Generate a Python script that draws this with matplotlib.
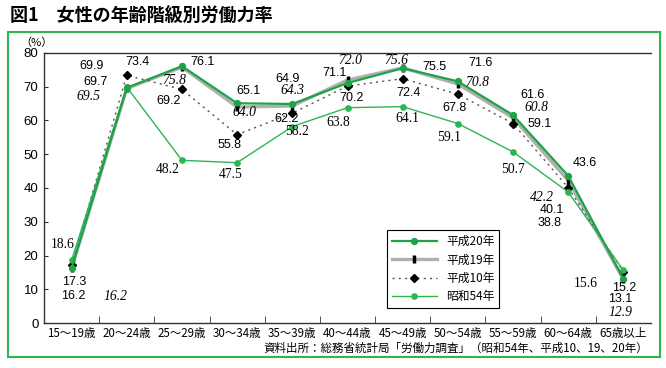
import matplotlib
matplotlib.use("Agg")
import matplotlib.pyplot as plt
from matplotlib.patches import Rectangle

# data
ages = ["15～19歳", "20～24歳", "25～29歳", "30～34歳", "35～39歳", "40～44歳",
        "45～49歳", "50～54歳", "55～59歳", "60～64歳", "65歳以上"]
h20 = [16.2, 69.7, 76.1, 65.1, 64.9, 71.1, 75.5, 71.6, 61.6, 43.6, 13.1]
h19 = [16.2, 69.5, 75.8, 64.0, 64.3, 72.0, 75.6, 70.8, 60.8, 42.2, 12.9]
h10 = [17.3, 73.4, 69.2, 55.8, 62.2, 70.2, 72.4, 67.8, 59.1, 40.1, 15.2]
s54 = [18.6, 69.9, 48.2, 47.5, 58.2, 63.8, 64.1, 59.1, 50.7, 38.8, 15.6]
yticks = [0, 10, 20, 30, 40, 50, 60, 70, 80]

# label offsets (pixels) from each point
off_h20 = [(2, -28), (-31, 6), (21, 4), (11, 12), (-5, 25), (-13, 10), (32, 1),
           (23, 18), (20, 20), (17, 13), (-3, -20)]
off_h19 = [(44, -28), (-38, -8), (-8, -13), (7, -6), (0, 15), (3, 19), (-6, 7),
           (19, 2), (23, 10), (-26, -17), (-3, -33)]
off_h10 = [(3, -17), (11, 13), (-13, -12), (-8, -10), (-6, -6), (4, -12), (6, -14),
           (-3, -14), (27, 0), (-16, -22), (1, -16)]
off_s54 = [(-9, 16), (-35, 21), (-14, -9), (-6, -12), (5, -5), (-9, -15), (5, -12),
           (-9, -14), (0, -18), (-19, -31), (-38, -13)]
s54_sans = [1, 9]

GREEN = "#1ea349"
LGREEN = "#2fb552"
JP = ["Noto Sans CJK JP", "DejaVu Sans"]

fig = plt.figure(figsize=(6.66, 3.68), dpi=100)
ax = fig.add_axes([44 / 666, 1 - 323 / 368, 607 / 666, 270 / 368])
x = list(range(len(ages)))

ax.plot(x, h19, color="#b0b0b0", lw=2.4, marker="|", ms=5.5, mew=2.5, mec="black",
        label="平成19年", zorder=2)
ax.plot(x, h10, color="#555555", lw=1, ls=(0, (1.5, 3)), marker="D", ms=3.8,
        mfc="black", mec="black", label="平成10年", zorder=3)
ax.plot(x, s54, color=LGREEN, lw=1, marker="o", ms=3.8, label="昭和54年", zorder=4)
ax.plot(x, h20, color=GREEN, lw=1.6, marker="o", ms=4.2, label="平成20年", zorder=5)

def put(vals, offs, **kw):
    for i, v in enumerate(vals):
        ax.annotate(f"{v:.1f}", (i, v), xytext=offs[i], textcoords="offset pixels",
                    ha="center", va="center", zorder=6, **kw)

put(h20, off_h20, family="Liberation Sans", fontsize=9)
put(h10, off_h10, family="Liberation Sans", fontsize=9)
put(h19, off_h19, family="Liberation Serif", style="italic", fontsize=9.8)
for i, v in enumerate(s54):
    if i in s54_sans:
        ax.annotate(f"{v:.1f}", (i, v), xytext=off_s54[i], textcoords="offset pixels",
                    ha="center", va="center", family="Liberation Sans", fontsize=9, zorder=6)
    else:
        ax.annotate(f"{v:.1f}", (i, v), xytext=off_s54[i], textcoords="offset pixels",
                    ha="center", va="center", family="Liberation Serif", fontsize=9.8, zorder=6)

ax.set_xlim(-0.5, len(ages) - 0.5)
ax.set_ylim(0, 80)
ax.set_yticks(yticks)
ax.set_yticklabels([str(t) for t in yticks], family="Liberation Sans", fontsize=9.5)
ax.set_xticks(x)
ax.set_xticklabels(ages, family=JP, fontsize=8.3)
ax.set_xticks([i + 0.5 for i in x[:-1]], minor=True)
ax.tick_params(axis="x", which="major", length=0, pad=3)
ax.tick_params(axis="x", which="minor", direction="in", length=5, color="#333333")
ax.tick_params(axis="y", direction="in", length=3, pad=4, color="#333333")
ax.spines["right"].set_visible(False)
for s in ["left", "bottom", "top"]:
    ax.spines[s].set_color("#333333")
    ax.spines[s].set_linewidth(1)

h, l = ax.get_legend_handles_labels()
order = [3, 0, 1, 2]
leg = ax.legend([h[k] for k in order], [l[k] for k in order], loc="lower left",
                bbox_to_anchor=(0.565, 0.056), borderaxespad=0, fancybox=False,
                edgecolor="black", framealpha=1, handlelength=3.8, labelspacing=0.45,
                prop={"family": JP, "size": 8.5})
leg.get_frame().set_linewidth(0.8)

fig.add_artist(Rectangle((8 / 666, 11 / 368), 652 / 666, 325 / 368,
                         transform=fig.transFigure, fill=False, ec=LGREEN, lw=1.5))
fig.text(10 / 666, 1 - 15 / 368, "図1　女性の年齢階級別労働力率", family=JP,
         fontsize=13, fontweight="bold", va="center")
fig.text(36 / 666, 1 - 43 / 368, "（%）", family=JP, fontsize=8, ha="center", va="center")
fig.text(648 / 666, 1 - 348 / 368,
         "資料出所：総務省統計局「労働力調査」（昭和54年、平成10、19、20年）",
         family=JP, fontsize=8.3, ha="right", va="center")

fig.savefig("out.png", dpi=100)
